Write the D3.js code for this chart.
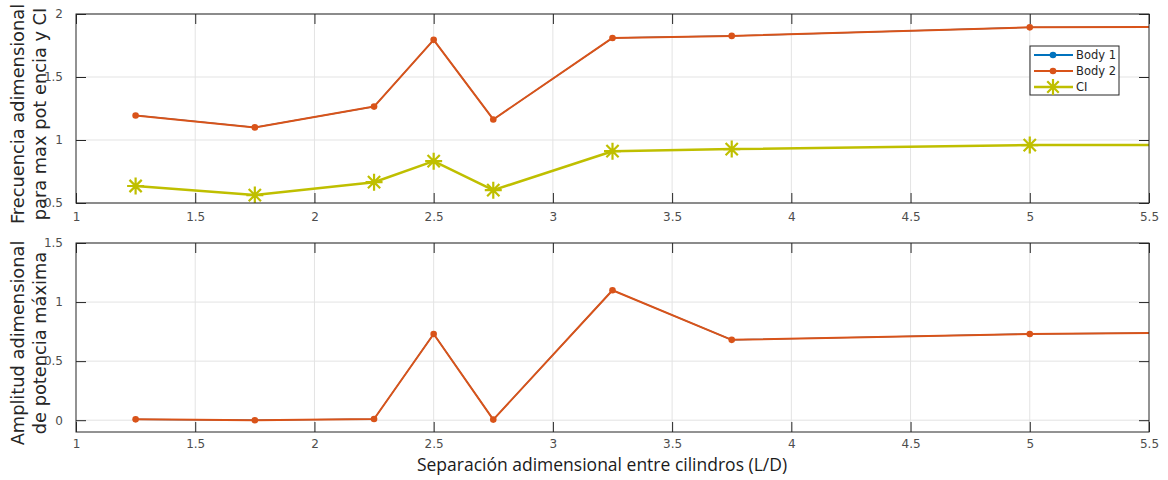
<!DOCTYPE html>
<html>
<head>
<meta charset="utf-8">
<script src="https://cdn.jsdelivr.net/npm/d3@7"></script>
<style>
  body { margin: 0; background: #fff; }
  svg { display: block; }
  .tick text { font-family: "DejaVu Sans", sans-serif; font-size: 12px; fill: #4d4d4d; }
</style>
</head>
<body>
<svg id="chart" width="1168" height="480"></svg>
<script>
// separation L/D (last point lies past the x-limit, line runs to the edge)
const sep = [1.25, 1.75, 2.25, 2.5, 2.75, 3.25, 3.75, 5, 6];
const freqBody1 = [1.195, 1.10, 1.265, 1.795, 1.163, 1.81, 1.826, 1.894, 1.90];
const freqBody2 = [1.195, 1.10, 1.265, 1.795, 1.163, 1.81, 1.826, 1.894, 1.90];
const freqCI = [0.635, 0.563, 0.665, 0.832, 0.602, 0.911, 0.928, 0.960, 0.962];
const ampBody1 = [0.007, 0.0, 0.01, 0.73, 0.005, 1.10, 0.68, 0.73, 0.745];
const ampBody2 = [0.007, 0.0, 0.01, 0.73, 0.005, 1.10, 0.68, 0.73, 0.745];
const xTicks = [1, 1.5, 2, 2.5, 3, 3.5, 4, 4.5, 5, 5.5];
const topYTicks = [0.5, 1, 1.5, 2];
const botYTicks = [0, 0.5, 1, 1.5];

const blue = '#0072BD', orange = '#D95319', olive = '#BFBF00';

const svg = d3.select('#chart');
const left = 76, right = 1149;

const x = d3.scaleLinear().domain([1, 5.5]).range([left, right]);

function panel(id, top, bottom, yDomain, yTicks, series, xPad) {
  const y = d3.scaleLinear().domain(yDomain).range([bottom, top]);
  const g = svg.append('g');

  svg.append('clipPath').attr('id', id)
    .append('rect').attr('x', left).attr('y', top)
    .attr('width', right - left).attr('height', bottom - top);

  // grid
  g.append('g').selectAll('line').data(xTicks.slice(1, -1)).join('line')
    .attr('x1', d => x(d)).attr('x2', d => x(d))
    .attr('y1', top).attr('y2', bottom)
    .attr('stroke', '#e3e3e3').attr('stroke-width', 1);
  g.append('g').selectAll('line').data(yTicks).join('line')
    .attr('x1', left).attr('x2', right)
    .attr('y1', d => y(d)).attr('y2', d => y(d))
    .attr('stroke', '#e3e3e3').attr('stroke-width', 1);

  // axes, ticks inside
  g.append('g').attr('transform', `translate(0,${bottom})`)
    .call(d3.axisBottom(x).tickValues(xTicks).tickFormat(d3.format('')).tickSizeInner(-10).tickSizeOuter(0).tickPadding(xPad))
    .call(a => a.select('.domain').remove())
    .call(a => a.selectAll('.tick line').attr('stroke', '#262626'));
  g.append('g').attr('transform', `translate(0,${top})`)
    .call(d3.axisTop(x).tickValues(xTicks).tickFormat('').tickSizeInner(-10).tickSizeOuter(0))
    .call(a => a.select('.domain').remove())
    .call(a => a.selectAll('.tick line').attr('stroke', '#262626'));
  g.append('g').attr('transform', `translate(${left},0)`)
    .call(d3.axisLeft(y).tickValues(yTicks).tickFormat(d3.format('')).tickSizeInner(-10).tickSizeOuter(0).tickPadding(13))
    .call(a => a.select('.domain').remove())
    .call(a => a.selectAll('.tick line').attr('stroke', '#262626'));
  g.append('g').attr('transform', `translate(${right},0)`)
    .call(d3.axisRight(y).tickValues(yTicks).tickFormat('').tickSizeInner(-10).tickSizeOuter(0))
    .call(a => a.select('.domain').remove())
    .call(a => a.selectAll('.tick line').attr('stroke', '#262626'));

  const plot = g.append('g').attr('clip-path', `url(#${id})`);
  const line = d3.line().x((d, i) => x(sep[i])).y(d => y(d));

  series.forEach(s => {
    plot.append('path').datum(s.values)
      .attr('d', line).attr('fill', 'none')
      .attr('stroke', s.color).attr('stroke-width', s.width)
      .attr('stroke-linejoin', 'round');
    const pts = plot.append('g').selectAll('g').data(s.values).join('g')
      .attr('transform', (d, i) => `translate(${x(sep[i])},${y(d)})`);
    if (s.marker === 'dot') {
      pts.append('circle').attr('r', s.r).attr('fill', s.color);
    } else {
      pts.append('path').attr('d', starPath(8.5))
        .attr('stroke', s.color).attr('stroke-width', 2.2).attr('fill', 'none');
    }
  });

  g.append('rect').attr('x', left).attr('y', top)
    .attr('width', right - left).attr('height', bottom - top)
    .attr('fill', 'none').attr('stroke', '#262626').attr('stroke-width', 1);
  return y;
}

function starPath(r) {
  const d = r * 0.72;
  return `M${-r},0H${r}M0,${-r}V${r}M${-d},${-d}L${d},${d}M${-d},${d}L${d},${-d}`;
}

// Body 1 sits under Body 2 (same values), drawn slightly thinner so it stays hidden
panel('clipTop', 14, 203, [0.5, 2], topYTicks, [
  { values: freqBody1, color: blue, width: 1.2, marker: 'dot', r: 2.5 },
  { values: freqBody2, color: orange, width: 2, marker: 'dot', r: 3.3 },
  { values: freqCI, color: olive, width: 2.5, marker: 'star' }
], 9);

panel('clipBot', 243, 432, [-0.1, 1.5], botYTicks, [
  { values: ampBody1, color: blue, width: 1.2, marker: 'dot', r: 2.5 },
  { values: ampBody2, color: orange, width: 2, marker: 'dot', r: 3.3 }
], 7);

// y labels
function yLabel(lines, cy) {
  const t = svg.append('text')
    .attr('transform', `translate(0,${cy}) rotate(-90)`)
    .attr('text-anchor', 'middle')
    .attr('font-family', '"DejaVu Sans", sans-serif')
    .attr('font-size', 17.8).attr('fill', '#262626');
  lines.forEach((l, i) => {
    t.append('tspan').attr('x', 0).attr('y', 24 + i * 22).text(l);
  });
}
yLabel(['Frecuencia adimensional', 'para max pot encia y CI'], 114);
yLabel(['Amplitud adimensional', 'de potencia máxima'], 343);

svg.append('text')
  .attr('x', 602).attr('y', 471)
  .attr('text-anchor', 'middle')
  .attr('font-family', '"Open Sans", sans-serif')
  .attr('font-size', 17.5).attr('fill', '#1a1a1a')
  .text('Separación adimensional entre cilindros (L/D)');

// legend
const legendItems = [
  { name: 'Body 1', color: blue, marker: 'dot', width: 2 },
  { name: 'Body 2', color: orange, marker: 'dot', width: 2 },
  { name: 'CI', color: olive, marker: 'star', width: 2.5 }
];
const lg = svg.append('g');
lg.append('rect').attr('x', 1030).attr('y', 46).attr('width', 89).attr('height', 49)
  .attr('fill', '#fff').attr('stroke', '#262626').attr('stroke-width', 1);
legendItems.forEach((d, i) => {
  const yy = 55 + i * 16;
  lg.append('line').attr('x1', 1034).attr('x2', 1073).attr('y1', yy).attr('y2', yy)
    .attr('stroke', d.color).attr('stroke-width', d.width);
  if (d.marker === 'dot') {
    lg.append('circle').attr('cx', 1053).attr('cy', yy).attr('r', 3.3).attr('fill', d.color);
  } else {
    lg.append('path').attr('transform', `translate(1053,${yy})`).attr('d', starPath(8))
      .attr('stroke', d.color).attr('stroke-width', 2.2).attr('fill', 'none');
  }
  lg.append('text').attr('x', 1076).attr('y', yy + 4)
    .attr('font-family', '"DejaVu Sans", sans-serif').attr('font-size', 11.5)
    .attr('fill', '#262626').text(d.name);
});
</script>
</body>
</html>
